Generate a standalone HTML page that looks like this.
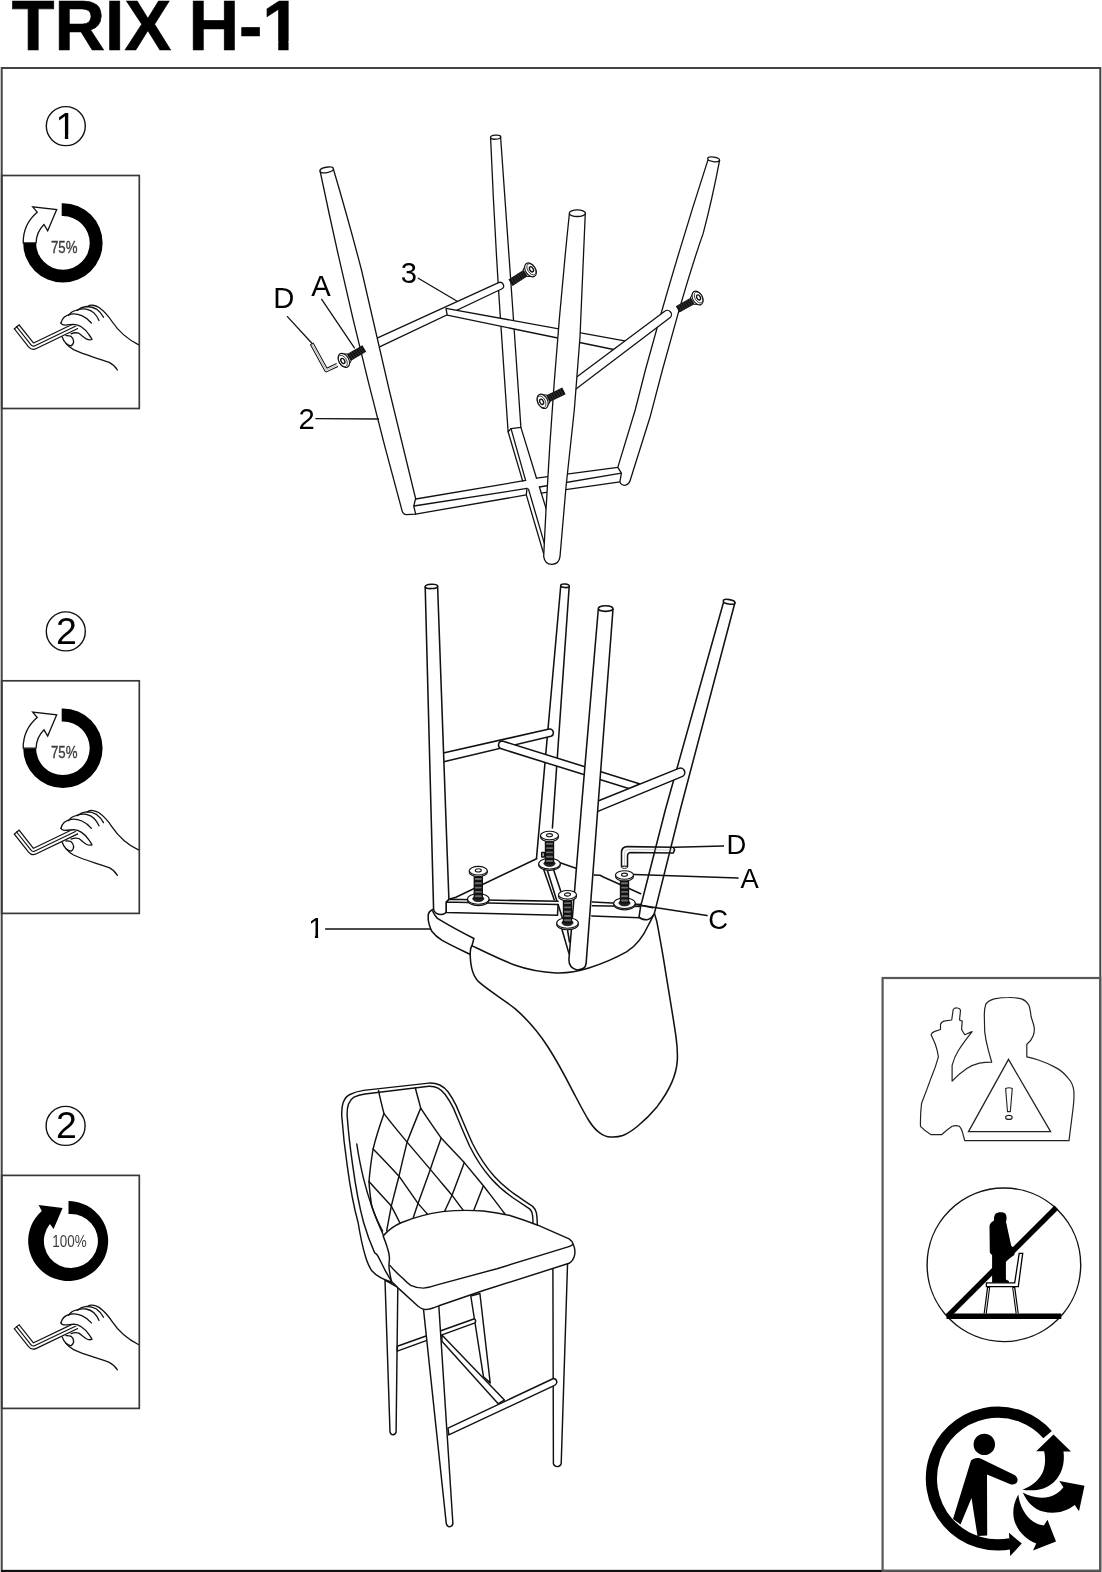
<!DOCTYPE html>
<html lang="en">
<head>
<meta charset="utf-8">
<title>TRIX H-1</title>
<style>
html,body{margin:0;padding:0;background:#fff;}
body{width:1102px;height:1572px;overflow:hidden;position:relative;font-family:"Liberation Sans",Arial,sans-serif;}
svg{position:absolute;left:0;top:0;display:block;will-change:transform;}
text{font-family:"Liberation Sans",Arial,sans-serif;fill:#000;}
.ln{fill:none;stroke:#111;stroke-width:1.3;stroke-linecap:round;stroke-linejoin:round;}
.lw{fill:#fff;stroke:#111;stroke-width:1.3;stroke-linecap:round;stroke-linejoin:round;}
.wf{fill:#fff;stroke:none;}
.fr{fill:none;stroke:#444;stroke-width:2;}
.lb{font-size:28.6px;}
#draw1 .lb{font-size:29.2px;}
#draw2 .lb{font-size:27.4px;}
#draw2 .ln,#draw2 .lw{stroke-width:1.55;}
#draw3 .ln,#draw3 .lw{stroke-width:1.45;}
</style>
</head>
<body>
<svg width="1102" height="1572" viewBox="0 0 1102 1572">
<defs>
<!-- hand with allen key, coordinates relative to panel top-left (0,0 = x0,y175.5) -->
<g id="hand">
  <!-- allen key -->
  <path d="M16.7 151.3 L31 169.4 Q32.6 171.4 35 170.2 L77 150" fill="none" stroke="#111" stroke-width="7.4" stroke-linejoin="round" stroke-linecap="butt"/>
  <path d="M16.2 150.7 L31 169.4 Q32.6 171.4 35 170.2 L78 149.5" fill="none" stroke="#fff" stroke-width="5" stroke-linejoin="round" stroke-linecap="butt"/>
  <path d="M16.2 150.7 L31 169.4 Q32.6 171.4 35 170.2 L77 150" fill="none" stroke="#111" stroke-width="1.1" stroke-linejoin="round"/>
  <path d="M13.9 153.7 L19.6 149" fill="none" stroke="#111" stroke-width="1.2"/>
  <!-- hand -->
  <path d="M60.9 147.5 C62 143 66 139.5 71.1 138.6 C78 137.5 86 141 91.4 147.5 L92 164 L86.3 163.4 L80 158 L77.5 151.5 L73.6 149.3 L66 150.2 Z" fill="#fff" stroke="none"/>
  <path class="ln" d="M87.6 131 C90 129 95 129.3 99 132 C104 135.5 108 140 112 146 C118 155 127 163.5 138.4 169.1"/>
  <path class="ln" d="M60.9 147.5 C62 143 66 139.5 71.1 138.6 C78 137.5 86 141 91.4 147.5"/>
  <path class="ln" d="M68.5 139.9 C71 136.5 73.5 135.3 76.1 134.8 C80 133.5 83 133 86.3 133.6 C89.5 134.3 92 135.5 93.9 137.4 C96 139.5 97.7 142 99 145"/>
  <path class="ln" d="M77.4 134.8 C80 132.5 83 131.3 86.3 131 C90 131 93.5 131.7 96.5 133.6 C99.5 135.8 101.8 138.5 103.5 141.8"/>
  <path class="ln" d="M60.9 147.5 C61.5 148.7 62.3 149.2 63.4 149.4 C67 150 70 148.8 73.6 148.8 C76.5 149 79 149.8 81.2 151.3 C84.5 153.5 87 156 88.9 159 C90.2 160.8 91.2 162.3 92 164 C90 164.6 88 164.3 86.3 163.4 C83.5 161.8 81.5 159.5 78.7 157.7 C76 156.8 73.5 157.3 71.1 158.3"/>
  <path class="ln" d="M62.2 161.5 C63 164 64.3 166.2 66 167.9 C67.5 169.3 69.2 170.2 71.1 170.4 C73 169 73.9 167.2 73.6 165.3 C73.3 163.5 72.5 162 71.1 160.9 C69.5 160.2 67.8 160 66 160.2"/>
  <path class="ln" d="M66 167.9 C68 170.5 70.5 172.6 73.6 174.2 C80 177.2 87 179.6 93.9 181.8 C99 183.4 104 185 109.2 186.9 C112.5 188.5 115.2 191 117.4 194.5"/>
</g>
<!-- 75% ring, relative to panel origin; centre (62.9,67.4) -->
<g id="ring75">
  <path d="M61.7 27.7 L62.9 27.7 A39.7 39.7 0 1 1 23.2 67.4 L36.1 67.4 A26.8 26.8 0 1 0 62.9 40.6 L61.7 40.6 Z" fill="#000"/>
  <path d="M23.2 67.4 A39.7 39.7 0 0 1 37.2 36.7 L32.7 31.3 L56.7 34 L47.7 55.3 L44 49 A26.8 26.8 0 0 0 36.1 67.4 Z" fill="#fff" stroke="#111" stroke-width="1.3" stroke-linejoin="miter"/>
</g>
<g id="ring100">
  <path d="M68.5 25.6 L69.7 25.6 A40 40 0 1 1 41.8 35.5 L38.6 29.6 L62.6 32.7 L53.6 53.6 L49.9 48.6 A27 27 0 1 0 69.7 38.6 L68.5 38.6 Z" fill="#000"/>
</g>
<!-- countersunk screw: origin at head centre, shaft along +x -->
<g id="screw">
  <path d="M6 0 L25.5 0" stroke="#111" stroke-width="8.2" fill="none"/>
  <path d="M8.5 -4.2 L9.3 4.2 M11.2 -4.2 L12 4.2 M13.9 -4.2 L14.7 4.2 M16.6 -4.2 L17.4 4.2 M19.3 -4.2 L20.1 4.2 M22 -4.2 L22.8 4.2" stroke="#555" stroke-width="0.5" fill="none"/>
  <path d="M0.5 -8 L6.8 -4.1 L6.8 4.1 L0.5 8 Z" fill="#fff" stroke="#111" stroke-width="1.1" stroke-linejoin="round"/>
  <ellipse cx="0" cy="0" rx="5.4" ry="8.2" fill="#fff" stroke="#111" stroke-width="1.2"/>
  <ellipse cx="-1.2" cy="0" rx="4" ry="6.7" fill="none" stroke="#111" stroke-width="0.8"/>
  <ellipse cx="-1.2" cy="0" rx="1.9" ry="3" fill="#fff" stroke="#111" stroke-width="1.5"/>
</g>
<!-- vertical screw with washer: origin at head centre -->
<g id="vscrew">
  <ellipse cx="0" cy="29.6" rx="10.8" ry="5.3" fill="#fff" stroke="#111" stroke-width="1.1"/>
  <ellipse cx="0" cy="28.2" rx="10.8" ry="5.3" fill="#fff" stroke="#111" stroke-width="1.1"/>
  <ellipse cx="0" cy="28" rx="5.6" ry="2.9" fill="#222" stroke="#111" stroke-width="0.8"/>
  <path d="M0 4 L0 28.5" stroke="#111" stroke-width="9.4" fill="none"/>
  <path d="M-2.6 8.3 H2.6 M-2.6 12.6 H2.6 M-2.6 16.9 H2.6 M-2.6 21.2 H2.6 M-2.6 25.5 H2.6" stroke="#6a6a6a" stroke-width="1.9" fill="none" stroke-linecap="round"/>
  <path d="M-9 0 L-9 1.6 A9 4.3 0 0 0 9 1.6 L9 0 Z" fill="#fff" stroke="#111" stroke-width="1.1" stroke-linejoin="round"/>
  <ellipse cx="0" cy="0" rx="9" ry="4.3" fill="#fff" stroke="#111" stroke-width="1.1"/>
  <ellipse cx="0" cy="-0.3" rx="3" ry="1.6" fill="#fff" stroke="#111" stroke-width="1.1"/>
</g>
</defs>

<!-- outer frame -->
<rect x="1.7" y="68" width="1098.6" height="1502.8" class="fr"/>
<line x1="1" y1="1571" x2="1101" y2="1571" stroke="#111" stroke-width="2"/>
<!-- title -->
<text x="11.7" y="49.8" font-size="70" font-weight="bold" word-spacing="-2.2" style="stroke:#000;stroke-width:0.7">TRIX H-1</text>
<rect x="262" y="41.2" width="16.25" height="10.5" fill="#fff"/><rect x="288.55" y="41.2" width="13.5" height="10.5" fill="#fff"/>

<!-- step circles -->
<g id="steps">
  <circle cx="65.8" cy="126.1" r="19.5" fill="none" stroke="#111" stroke-width="1.4"/>
  <text x="55.6" y="138.9" font-size="37.5">1</text>
  <rect x="57" y="135" width="7.85" height="5.2" fill="#fff"/><rect x="68.25" y="135" width="7" height="5.2" fill="#fff"/>
  <circle cx="65.8" cy="631.4" r="19.5" fill="none" stroke="#111" stroke-width="1.4"/>
  <text x="56.1" y="643.7" font-size="37.5">2</text>
  <circle cx="65.6" cy="1125.9" r="19.5" fill="none" stroke="#111" stroke-width="1.4"/>
  <text x="55.9" y="1138.2" font-size="37.5">2</text>
</g>

<!-- left panels -->
<g id="panel1" transform="translate(0,175.5)">
  <rect x="1.7" y="0" width="137.6" height="233" class="fr" style="stroke-width:1.7;stroke:#383838"/>
  <use href="#ring75"/>
  <text x="51" y="77.1" font-size="16.4" style="fill:#3a3a3a;stroke:#3a3a3a;stroke-width:0.35" textLength="26.5" lengthAdjust="spacingAndGlyphs">75%</text>
  <use href="#hand"/>
</g>
<g id="panel2" transform="translate(0,680.8)">
  <rect x="1.7" y="0" width="137.6" height="232.6" class="fr" style="stroke-width:1.7;stroke:#383838"/>
  <use href="#ring75"/>
  <text x="51" y="77.1" font-size="16.4" style="fill:#3a3a3a;stroke:#3a3a3a;stroke-width:0.35" textLength="26.5" lengthAdjust="spacingAndGlyphs">75%</text>
  <use href="#hand"/>
</g>
<g id="panel3" transform="translate(0,1175.4)">
  <rect x="1.7" y="0" width="137.6" height="233" class="fr" style="stroke-width:1.7;stroke:#383838"/>
  <use href="#ring100"/>
  <text x="52.3" y="71.6" font-size="15.6" style="fill:#3a3a3a" textLength="34.3" lengthAdjust="spacingAndGlyphs">100%</text>
  <use href="#hand"/>
</g>

<!-- right box -->
<rect x="882.6" y="978" width="217.6" height="592.8" class="fr" style="stroke:#585858;stroke-width:2.2"/>

<!--DRAW1-->
<!-- ===== DRAWING 1 : leg frame ===== -->
<g id="draw1">
  <!-- leg 2 (back middle) -->
  <path class="lw" d="M490.6 137.7 Q494.5 230 500.2 315.1 L508.1 431.8 L511 428.6 L520.9 427.4 L512.7 308.3 L500.6 137 Z"/>
  <ellipse class="lw" cx="495.6" cy="137.2" rx="5.1" ry="2" transform="rotate(-4 495.6 137.2)"/>
  <!-- bar 3 (leg1 -> leg2) -->
  <path class="lw" d="M376 338.7 L498.6 282.7 A3.4 3.4 0 0 1 501.6 289 L378 347.6 Z"/>
  <!-- cross bar (junction -> right) -->
  <path class="lw" d="M446 308.3 L626 341.2 L613.6 349.5 L447.2 315.2 Z"/>
  <!-- leg 1 (left) -->
  <path class="lw" d="M320.1 171 Q355.5 341 402.1 510.8 Q403 514.3 406.5 514.6 L415.6 514.1 L413.8 506 L415.6 498.5 L389.2 390 L361.5 270 Q349 222 333.3 168.8 Z"/>
  <ellipse class="lw" cx="326.7" cy="169.9" rx="6.8" ry="2.7" transform="rotate(-10 326.7 169.9)"/>
  <!-- stretcher A (leg1 -> leg4) and stretcher B (leg2 -> leg3), square tubes crossing -->
  <path class="ln" d="M415.8 499 L525.6 480.4 M536.5 478.2 L617.8 467.4"/>
  <path class="ln" d="M413.8 506 L527 488.4 M539.4 487 L621.4 473.2"/>
  <path class="ln" d="M415.6 514.1 L526.3 494.9 M541.3 493.1 L619.9 481.9"/>
  <path class="ln" d="M508.1 431.8 L522.7 481.1 M511 428.6 L525.6 480.4 M520.9 427.4 L536.5 478.2"/>
  <path class="ln" d="M527 488.4 L526.3 494.9 L543.7 553.7 M528.5 489.1 L544.4 543.6 M539.4 487 L546.6 510.2"/>
  <!-- leg 4 (right) -->
  <path class="lw" d="M707.8 160.4 Q683 237 661.3 312.8 L645.4 370 L635.2 410 L617.8 467.4 L621.4 473.2 L619.9 481.9 Q621.3 485.8 625.5 485.2 Q629.5 484 630.6 479 L650 417.3 L662.4 370 L678.3 312.8 Q693 262 703.2 233.4 Q712 200 719.6 160.4 Z"/>
  <ellipse class="lw" cx="713.6" cy="159.3" rx="6" ry="2.3" transform="rotate(8 713.6 159.3)"/>
  <!-- bar leg4 -> leg3 -->
  <path class="lw" d="M573 379.8 L664.4 311.6 A3.9 3.9 0 0 1 670.2 317.6 L573 391.2 Z"/>
  <!-- leg 3 (front middle) -->
  <path class="lw" d="M569.4 213.5 Q551.5 385 543.7 556.6 Q545 564.5 552 564.3 Q559 564 560 556.6 L566 487 L574.3 410 L580 337 L585.3 213 Z"/>
  <ellipse class="lw" cx="577.3" cy="213.2" rx="8" ry="3.3"/>
  <!-- screws -->
  <use href="#screw" transform="translate(343.8 360.4) rotate(-30.3) scale(0.93)"/>
  <use href="#screw" transform="translate(530.5 269.9) rotate(147.4) scale(1 -1) scale(0.93)"/>
  <use href="#screw" transform="translate(697.6 298) rotate(150.4) scale(1 -1) scale(0.9)"/>
  <use href="#screw" transform="translate(542.6 401.3) rotate(-26) scale(0.93)"/>
  <!-- allen key -->
  <path d="M311.9 344 L326.3 370.2 L337.3 365" fill="none" stroke="#111" stroke-width="4.2" stroke-linejoin="round"/>
  <path d="M311.5 343.2 L326.3 370.2 L338.2 364.6" fill="none" stroke="#fff" stroke-width="2.2" stroke-linejoin="round"/>
  <path d="M311.9 344 L326.3 370.2 L337.3 365" fill="none" stroke="#666" stroke-width="0.5" stroke-linejoin="round"/>
  <path d="M310.2 344.8 L313.6 343" stroke="#111" stroke-width="1" fill="none"/>
  <!-- labels -->
  <path class="ln" d="M287.4 316.6 L311.9 343.2 M321.7 299.4 L354.4 347.9 M418.3 278.3 L457.2 301.2 M315.9 418.7 L378.5 419"/>
  <text class="lb" x="273.2" y="308.1">D</text>
  <text class="lb" x="311.2" y="296.1">A</text>
  <text class="lb" x="400.7" y="282.7">3</text>
  <text class="lb" x="298.4" y="429">2</text>
</g>
<!--/DRAW1-->
<!--DRAW2-->
<!-- ===== DRAWING 2 : frame on seat ===== -->
<g id="draw2">
  <!-- backrest (hangs below seat) -->
  <path class="ln" d="M470.1 954.3 C470.3 960 470.8 964 471.7 968.1 C473 974 475 978 478.5 981.7 C489 991 503 999 515.3 1008.9 C528 1020 539 1033 548 1047 C557 1061 565 1076 572.5 1090.6 C578 1101 583 1111 588.8 1120.5 C592 1125.5 595.5 1130 599.7 1132.8 C603 1135.3 606.5 1136.8 610.6 1136.9 C615 1137.2 619 1136.8 622.8 1135.5 C628 1133.5 633 1130 637.8 1126 C645 1120 651 1114 656.9 1106.9 C663 1099 668 1091 671.8 1082.4 C675 1075 676.8 1068 677.3 1060.6 C677.8 1052 677 1044 675.9 1036.1 C672.5 1013 668.5 990 665 968.1 C662.5 952 659.5 936 656.9 921.8 L654.4 913.4"/>
  <!-- seat underside -->
  <path class="ln" d="M433.6 909 C430 910.8 428.3 913 428.2 915.1 C427.8 918.5 428.3 921.5 429.3 924.9 C430 927.5 431 929.8 432 931.5 C434.5 934.8 438 937.7 441.8 940.2 C451 945.5 461 950 470.1 954.3 L470.6 948.9 L472.3 944.5 L473.9 938.5 C461 932 449 925.5 437.4 918.4 C435.5 916.5 434 914 432.8 911.5"/>
  <path class="ln" d="M471.7 945.6 C486 952.5 500 959.5 515.3 965.3 C528 969.8 542 972.3 556.1 973 C567 973.4 578 971.5 588.8 968.1 C602 963.8 615 958.5 626.9 951.7 C636 946 643.5 936 648.7 924.5 C650.8 920.5 652.5 917.5 653.8 914.2"/>
  <!-- seat plate outline + frame rails -->
  <path class="ln" d="M448.9 899.3 L455.9 897.2 L537.1 858.5 M559.4 862.6 L575.9 868.3 M594.3 874.9 L600 875.3 L603.9 877.2 L640.7 893.7"/>
  <path class="ln" d="M446.1 902.1 L448.9 899.3 L558.1 901.3 M446.1 902.1 L558.1 904.5 M446.1 902.1 L446.1 912.4 L557.5 915.3 L558.1 904.5"/>
  <path class="ln" d="M592.4 901.9 L642 904.5 M592.4 905.8 L642 906.4 M591.8 915.9 L639.4 917.8"/>
  <path class="ln" d="M543.5 868.9 L554.3 900 M547.3 870.2 L556.8 900.7 M553.7 870.2 L560.7 891.1 M558.1 904.5 L563.2 920.4 M561.9 929.3 L568.9 953.4 M567.6 930.5 L569.5 942"/>
  <!-- leg B (back middle) -->
  <path class="wf" d="M560.7 586.3 L536.5 858.1 L548 864 L553 820 L569.2 586.3 Z"/>
  <path class="ln" d="M560.7 586.3 L536.5 858.1 M569.2 586.3 L552.4 828"/>
  <ellipse class="lw" cx="565" cy="585.8" rx="4.3" ry="1.8" transform="rotate(4 565 585.8)"/>
  <path class="lw" d="M541.8 852.5 L544.4 852.5 L544.4 857 L541.8 857 Z" stroke-width="0.9"/>
  <!-- bar 1 (leg A -> leg B) -->
  <path class="lw" d="M440 753.7 L549.3 729 A3.8 3.8 0 0 1 551 736.3 L440.6 762.6 Z"/>
  <!-- leg A (left) -->
  <path class="lw" d="M425.2 587 L433.6 909.7 Q435.5 914.5 441 914.6 Q446 914.3 446.1 911 L446.1 902.1 L448.9 899.3 L446.7 840 L437.6 586.3 Z"/>
  <ellipse class="lw" cx="431.4" cy="586.4" rx="6.2" ry="2.2" transform="rotate(-2 431.4 586.4)"/>
  <!-- bar 2 (cross) -->
  <path class="lw" d="M502.5 741 L640.1 784 L628.7 788.6 L501.3 748.8 A4 4 0 0 1 502.5 741 Z"/>
  <!-- leg D (right) -->
  <path class="wf" d="M723.4 602.7 L665.3 810 L642 901.3 L640.8 905.3 L639 917.1 L647 919.8 L654.4 913.4 L680.2 810 L734.9 602.7 Z"/>
  <path class="ln" d="M723.4 602.7 L665.3 810 L642 901.3 L640.8 905.3 L639 917.1 Q642 920 647.2 919.8 Q652 918.5 654.4 913.4 L680.2 810 L734.9 602.7 M640.8 905.3 L652.6 907.8"/>
  <ellipse class="lw" cx="729.1" cy="601.8" rx="5.9" ry="2.2" transform="rotate(10 729.1 601.8)"/>
  <!-- bar 3 (leg D -> leg C) -->
  <path class="lw" d="M596.2 801.8 L678.8 768.4 A4.3 4.3 0 0 1 682 776.6 L594.9 812.6 Z"/>
  <!-- screws S2 (back), S1 (left), S4 (right) -->
  <use href="#vscrew" transform="translate(549.5 835.5)"/>
  <use href="#vscrew" transform="translate(478.3 870.7)"/>
  <use href="#vscrew" transform="translate(624.5 875)"/>
  <!-- leg C (front middle) -->
  <path class="lw" d="M598.3 609.2 L581.2 810 L568.9 959.8 Q569 968.5 577.2 969.9 Q585.5 969.5 586.1 963.6 L597.7 810 L613 609.2 Z"/>
  <ellipse class="lw" cx="605.6" cy="608.6" rx="7.3" ry="2.8"/>
  <use href="#vscrew" transform="translate(567.5 894.8)"/>
  <!-- allen key (outline only) -->
  <path class="ln" d="M621.5 866.5 L621.5 852.6 Q621.5 846.6 627.5 846.6 L673.3 847.2 L674.6 849.9 L673.3 853 L631 852.5 Q627.5 852.6 627.5 856 L627.5 866.5 Z" stroke-width="1.1"/>
  <path d="M624.5 865 L624.5 853 Q624.5 849.6 628 849.6 L673 850" fill="none" stroke="#999" stroke-width="0.5"/>
  <ellipse cx="624.5" cy="867.3" rx="3" ry="1.1" fill="#fff" stroke="#111" stroke-width="0.9"/>
  <!-- labels -->
  <path class="ln" d="M674.6 847.2 L723.4 845.9 M634.4 874.4 L737.9 878.1 M635.4 904.4 L707 915.6 M325.7 929 L430.2 929"/>
  <text class="lb" x="726.4" y="853.6">D</text>
  <text class="lb" x="740.4" y="888.4">A</text>
  <text class="lb" x="708.2" y="928.6">C</text>
  <text class="lb" x="308.2" y="937.8" style="font-size:28.8px">1</text>
  <rect x="309" y="934.9" width="5.9" height="4.4" fill="#fff"/><rect x="318.1" y="934.9" width="5" height="4.4" fill="#fff"/>
</g>
<!--/DRAW2-->
<!--DRAW3-->
<!-- ===== DRAWING 3 : assembled stool ===== -->
<g id="draw3">
  <!-- back-right leg -->
  <path class="lw" d="M470.8 1296 L483.5 1376.8 L490.2 1382.9 L479.9 1293.5 Z"/>
  <!-- back-left leg -->
  <path class="lw" d="M385 1280 L390 1432 Q391 1435 393 1434.8 Q395.5 1434.5 396.1 1432 L397.8 1287.4 Z"/>
  <!-- stretcher back-left -> back-right -->
  <path class="lw" d="M397.3 1346.2 L474.5 1318.7 Q476.5 1320.5 475 1322.9 L397.3 1351.1 Z"/>
  <!-- diagonal stretcher -->
  <path class="lw" d="M441.9 1335.1 L504.4 1400.1 L498.2 1403.7 L441.9 1341.3 Z"/>
  <!-- front-right leg -->
  <path class="lw" d="M552.9 1266 L553.4 1463.8 Q554.5 1466.8 557.5 1466.6 Q560.5 1466.3 561.2 1463.8 L567.6 1262 Z"/>
  <!-- front stretcher -->
  <path class="lw" d="M448 1428.2 L553.4 1378.5 A3.6 3.6 0 0 1 554.6 1385.4 L448.8 1434.9 Z"/>
  <!-- front-left leg -->
  <path class="lw" d="M423.5 1309.4 L446.3 1523.8 Q447.2 1526.8 449.6 1526.7 Q452.2 1526.5 452.9 1523.8 L438.7 1304 Z"/>
  <!-- backrest outer shell -->
  <path class="wf" d="M391.8 1282.2 C381 1279 375.5 1275 371.8 1270.8 C368.5 1266 366.8 1261 365.4 1256.3 C361.5 1244 358.5 1233 358.1 1222.5 C353 1204 349.8 1185 347.2 1165.3 C344.8 1149 343 1133 341.8 1116.3 C341.5 1111 341.8 1106.5 343.1 1102.7 C344.5 1098.8 346.8 1096 349.9 1094.5 C354 1092.5 358.5 1091.2 363.6 1090.4 L428.9 1083.1 C433 1083 436.8 1083.6 439.8 1085 C443 1086.6 445.8 1088.8 448 1091.8 C451 1096 453.7 1100.5 456.1 1105.4 C461.5 1118 466.8 1131 472.5 1143.5 C478.5 1155.5 485.5 1166.5 494.2 1176.2 C500.5 1183.2 508 1189.5 516 1195.2 C521.5 1199 527 1202.5 532.4 1206.1 C534.5 1208 535.8 1210.3 536.4 1212.9 C537 1216.2 537.3 1219.5 537.3 1225 L500 1240 Z"/>
  <path class="ln" d="M391.8 1282.2 C381 1279 375.5 1275 371.8 1270.8 C368.5 1266 366.8 1261 365.4 1256.3 C362 1245 359.8 1233 358.1 1222.5 C353 1204 349.8 1185 347.2 1165.3 C344.8 1149 343 1133 341.8 1116.3 C341.5 1111 341.8 1106.5 343.1 1102.7 C344.5 1098.8 346.8 1096 349.9 1094.5 C354 1092.5 358.5 1091.2 363.6 1090.4 L428.9 1083.1 C433 1083 436.8 1083.6 439.8 1085 C443 1086.6 445.8 1088.8 448 1091.8 C451 1096 453.7 1100.5 456.1 1105.4 C461.5 1118 466.8 1131 472.5 1143.5 C478.5 1155.5 485.5 1166.5 494.2 1176.2 C500.5 1183.2 508 1189.5 516 1195.2 C521.5 1199 527 1202.5 532.4 1206.1 C534.5 1208 535.8 1210.3 536.4 1212.9 C537 1216.2 537.3 1219.5 537.3 1224.5"/>
  <!-- backrest inner edge -->
  <path class="ln" d="M391.8 1281.7 C389.5 1278 387.5 1274.5 385.4 1270.8 C382.8 1266 380.5 1261 378.1 1256.3 C376.8 1254 375.5 1253.5 374.5 1252.4 C370 1242.5 366.5 1232.5 363.6 1222.5 C358.5 1203.5 355.3 1184.5 352.7 1165.3 C350.3 1149 348.4 1133 347.2 1116.3 C346.9 1111.5 347.3 1107.5 348.5 1104 C349.8 1100.8 351.5 1098.7 354 1097.2 C357.3 1095.6 361 1094.6 364.9 1094 L428.9 1086.3 C432.5 1086.2 435.5 1086.8 438 1088.2 C440.8 1089.8 443.2 1091.8 445.2 1094.5 C448.2 1098.7 451 1103.3 453.4 1108.1 C458.8 1121 464 1134 469.7 1146.2 C475.7 1158.3 482.7 1169.2 491.5 1178.9 C497.8 1186 505.3 1192.3 513.3 1198 C518.8 1201.7 524.2 1205.3 529.6 1208.9 C531.2 1210.4 532 1212.2 532.4 1214.3 C532.8 1217 533 1219.8 533 1222.5"/>
  <!-- side seam -->
  <path class="ln" d="M356.8 1144 C358.5 1156 361 1168 363.6 1178.9 C366 1188.5 368.7 1197.5 371.7 1206.1 C375 1216 379 1225.5 383.2 1234.7"/>
  <!-- quilted panel left boundary -->
  <path class="ln" d="M378.5 1090.4 C380 1098 382 1106 384 1113.6 C380 1125 376 1137 373.1 1149 C371.3 1160 369.8 1171 369 1181.6 C369.5 1190 370.5 1198 371.7 1206.1 C374.5 1214.5 378 1223 382.6 1231"/>
  <!-- quilting: down-right lines -->
  <path class="ln" d="M384 1113.6 C391.5 1123.5 399.5 1133 407.1 1142.1 C415 1151.5 422.8 1160.5 430.3 1169.4 C437.5 1178.2 445 1186.8 452 1195.2 C456 1200.8 460 1206.3 464.3 1211.6"/>
  <path class="ln" d="M373.1 1149 C382 1158 390.5 1167 399 1176.2 C405.5 1185.5 412 1194.5 418 1203.4 C421.5 1207.5 425.3 1211.7 428.9 1215.7"/>
  <path class="ln" d="M369 1181.6 C376.5 1190 384 1198 391.3 1206.1 C394.5 1212 397.5 1218 400.3 1223.8"/>
  <path class="ln" d="M420.7 1108.1 C427.5 1118.5 434.5 1128.5 441.2 1138.1 C449 1146.5 456.8 1154.7 464.3 1162.6 C470.8 1170.5 477.2 1178.2 483.4 1185.7 C490.5 1195 498 1204.5 505.1 1214.3"/>
  <!-- quilting: down-left lines -->
  <path class="ln" d="M415.3 1087.7 C417 1094.5 419 1101.5 420.7 1108.1 C416 1119.5 411.3 1131 407.1 1142.1 C404.2 1153.5 401.5 1165 399 1176.2 C396.3 1186.3 393.8 1196.3 391.3 1206.1 C389.7 1214.3 388.2 1222.5 386.7 1230.6"/>
  <path class="ln" d="M441.2 1138.1 C437.5 1148.5 433.8 1159 430.3 1169.4 C426.2 1180.8 422 1192.2 418 1203.4 C416.2 1208.8 414.4 1214.3 412.6 1219.7"/>
  <path class="ln" d="M464.3 1162.6 C460.2 1173.5 456 1184.5 452 1195.2 C449.3 1201 446.6 1207 443.9 1212.9"/>
  <path class="ln" d="M483.4 1185.7 C480.2 1193.8 477 1202 473.8 1210.2"/>
  <!-- seat cushion -->
  <path class="lw" d="M383.1 1235.9 C388.5 1229.8 394.5 1225.5 401.7 1222.5 C414.5 1217.2 428 1213.6 442.5 1211.6 C456 1210.2 470 1210 483.4 1211 C492.5 1212 501.5 1213.5 510.6 1215.7 C519.8 1218.5 528.8 1221.7 537.8 1225.2 L569.1 1238.8 C571 1240 572.3 1241.8 573.2 1244.2 C575 1248 575.3 1251.5 574.6 1255.1 C573.8 1259 572 1261.5 569.1 1263.3 L483.4 1290.5 L438.9 1305.8 C434.5 1307.6 430.8 1308.9 427.1 1309.4 C425.4 1309.6 423.9 1309.4 422.6 1308.9 C420.8 1308.2 419.4 1307.3 418.1 1306.2 L397.7 1287.6 L391.8 1281.7 C391.2 1280 390.7 1278.2 390.4 1276.3 C389.8 1273.3 389.3 1270.2 389 1267.2 C388.9 1264 389.2 1261 389.5 1258.1 C389.3 1254.3 388.4 1250.6 387.2 1247.2 C386 1243.3 384.6 1239.5 383.1 1235.9 Z"/>
  <path class="ln" d="M389.9 1265.4 C394 1270.3 398.7 1274.8 403.6 1279 C405.8 1281.5 408.2 1283.6 410.8 1285.3 C414.8 1287.2 419 1288.1 423.5 1288.1 C428.2 1287.7 432.6 1286.5 437.1 1284.9 L497 1268.7 L566.4 1247.4 C569 1246.8 571.5 1245.8 573.2 1244.2"/>
</g>
<!--/DRAW3-->
<!--ICONS-->
<g id="icon-warn">
  <path d="M1069 1140.6 L1073.2 1107.4 C1074 1101 1074.2 1096 1073.8 1090.5 C1073 1085 1071 1081 1067.9 1077.9 C1064.5 1073.5 1060.5 1070 1055.3 1067.4 C1050 1064.5 1044.5 1062 1038.4 1060 C1034.5 1058.7 1030.8 1057.6 1026.8 1056.8 L1026.8 1044.2 C1030 1042 1032 1039 1033.2 1035.8 C1034.2 1033 1034.6 1030 1034.2 1027.4 C1033.6 1023.5 1032.2 1020.3 1031.1 1016.8 C1030.6 1012.5 1030 1008.5 1028.9 1005.3 C1027 1002 1024.5 1000 1021.6 998.9 C1017.5 997.8 1013.3 997.4 1008.9 997.5 C1003.8 997.5 999 998 994.2 998.9 C990.5 1000 987.5 1001.8 985.8 1004.2 C984.6 1007.5 984.3 1011 984.3 1014.7 L984.7 1031.6 C985.3 1037.5 986.5 1043 987.9 1048.4 C989 1053 990.4 1057.5 991.7 1062.1 C987.5 1062.2 983.5 1062.5 979.5 1063.2 C975 1064.3 970.8 1066 966.8 1068.4 C961.5 1072 956.5 1076 952.1 1081.1 L952.1 1065.3 C953.5 1060 955.6 1055 958.4 1050.5 C962.5 1044 967.3 1037.7 972.1 1031.6 C969.5 1032.5 967.2 1033.7 964.7 1034.7 L961.6 1029.5 L962.2 1021.1 L959.5 1020 L960.5 1010.5 C960.2 1009 959 1008 957.4 1008 C955.5 1007.7 954 1008.3 953.2 1009.5 L951.7 1020 L943.7 1021.1 C942 1021.8 941 1022.8 940.5 1024.2 L940.5 1029.5 L934.2 1031.6 C932.5 1032.3 931.5 1033.3 931.1 1034.7 C932.5 1038 934 1041 935.3 1044.2 C936.8 1048.3 937.8 1052.5 938.4 1056.8 C936.5 1064 934 1071 931.1 1077.9 C928 1086.5 924.8 1095 921.6 1103.2 C920.6 1111 920.3 1118.7 920.5 1126.3 C923.5 1129.5 927 1132.3 931.1 1134.7 L941.6 1134.7 C945 1131.5 948.5 1128.8 952.1 1126.3 C954.5 1125.5 957 1125.5 959.5 1126.3 C961 1128 962 1130 962.6 1132.6 L964.7 1140.6 Z" fill="none" stroke="#222" stroke-width="1.2" stroke-linejoin="round"/>
  <path d="M1008.5 1059.4 L968.5 1131.6 L1050.6 1131.6 Z" fill="#fff" stroke="#222" stroke-width="1.3" stroke-linejoin="miter"/>
  <path d="M1005.6 1088.4 Q1008.9 1087 1012.3 1088.4 L1010.3 1111.6 L1007.5 1111.6 Z" fill="#fff" stroke="#222" stroke-width="1.1" stroke-linejoin="round"/>
  <ellipse cx="1008.9" cy="1117.4" rx="3.3" ry="2" fill="#fff" stroke="#222" stroke-width="1.1"/>
</g>
<g id="icon-nostand">
  <circle cx="1003.9" cy="1264.8" r="76.8" fill="none" stroke="#111" stroke-width="1.4"/>
  <path d="M947.7 1316.2 L1056.4 1207.5" stroke="#000" stroke-width="5.4" fill="none" stroke-linecap="butt"/>
  <path d="M946.5 1316.2 L1061.3 1316.2" stroke="#000" stroke-width="5.4" fill="none"/>
  <!-- chair -->
  <path d="M986.4 1282.8 L1014.7 1282.8 L1019.2 1253.4 L1022.7 1253.4 L1018.3 1286.6 L986.4 1286.6 Z" fill="#fff" stroke="#000" stroke-width="1.3" stroke-linejoin="miter"/>
  <path d="M988.6 1287 L985.2 1313.6 M1013.7 1287 L1017.2 1313.6" stroke="#000" stroke-width="3.2" fill="none"/>
  <path d="M988.6 1288 L985.2 1313.6 M1013.7 1288 L1017.2 1313.6" stroke="#fff" stroke-width="0.9" fill="none"/>
  <!-- person -->
  <path d="M995.3 1214 C997.5 1211.8 1003 1211.6 1005.2 1213.6 C1006.8 1215.5 1007 1219 1005.9 1222.1 C1006.6 1224 1007 1226 1007.4 1228.2 L1011.2 1245.8 L1015 1248.9 L1014.3 1255 C1011.5 1257 1008.5 1259 1005.9 1261.1 L1005.9 1279.4 L1008.9 1280.9 L1008.9 1282.8 L992.1 1282.8 L992.1 1255 C990.8 1254 990 1253 989.8 1251.9 L989.5 1226 C989.8 1224 991.3 1222 994 1220.6 C993.9 1218 994.2 1215.8 995.3 1214 Z" fill="#000"/>
</g>
<g id="icon-triman">
  <!-- ring arc -->
  <path d="M1047.6 1434.6 A66.4 66.4 0 1 0 1010.5 1543.7" fill="none" stroke="#000" stroke-width="11.2"/>
  <path d="M1009 1532.8 L1010.2 1556 L1021.8 1543.6 Z" fill="#000"/>
  <!-- person -->
  <circle cx="984.3" cy="1444.4" r="10.7" fill="#000"/>
  <path d="M971 1460.5 C973 1458.2 976.5 1457.5 980 1458.2 L1013.5 1474.5 C1017 1476.2 1018.3 1479 1017.2 1481.8 C1016 1484.3 1013 1485.2 1009.8 1484 L987 1474.5 L987.2 1535.5 L977.5 1536 L971.5 1498 L960.5 1524.5 L953 1519 Z" fill="#000"/>
  <!-- arrows -->
  <path d="M1036.2 1451.2 L1053.5 1434.4 L1071 1451.4 L1063.5 1451.4 C1065 1463 1062 1474 1054 1482 C1046 1489.5 1035 1491.5 1022.5 1489.8 C1033 1485.5 1040.5 1479 1043.6 1470 C1045.5 1464 1045.5 1457.5 1044.2 1451.3 Z" fill="#000"/>
  <path d="M1059.3 1481 L1084.5 1485.8 L1079 1511.2 L1074.8 1505 C1065 1512.5 1054 1514.2 1043 1511.5 C1034 1509 1027 1502.5 1022.8 1492.5 C1031.5 1497.5 1041 1499 1050.5 1496.5 C1055.5 1495 1059.8 1491.8 1063.4 1487.2 Z" fill="#000"/>
  <path d="M1047.5 1519.8 L1056 1541.6 L1033 1550.6 L1036.2 1543.5 C1026 1539.5 1018.8 1532.5 1014.8 1522 C1012 1513.5 1013 1504 1018.3 1494.5 C1019.5 1504.5 1023.5 1513 1030.5 1519.5 C1034.3 1522.8 1038.6 1524.6 1043.8 1525.5 Z" fill="#000"/>
</g>
<!--/ICONS-->
</svg>
</body>
</html>
